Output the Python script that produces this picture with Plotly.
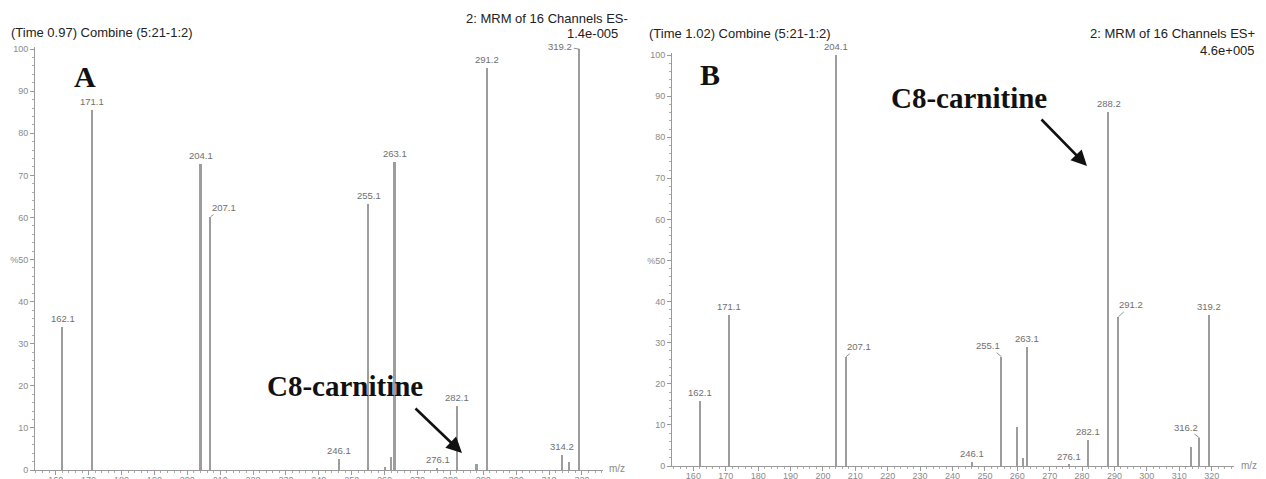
import plotly.graph_objects as go

W, H = 1266, 479

# ---------------- data ----------------
mz_A = [162.1, 171.1, 204.1, 207.1, 246.1, 255.1, 260.2, 262.0, 263.1, 276.1, 282.1, 288.0, 291.2, 313.9, 316.1, 319.2]
int_A = [34.0, 85.5, 72.6, 60.2, 2.7, 63.1, 0.8, 3.1, 73.2, 0.5, 15.3, 1.5, 95.4, 3.5, 2.0, 100.0]
lab_A = ["162.1", "171.1", "204.1", "207.1", "246.1", "255.1", "", "", "263.1", "276.1", "282.1", "", "291.2", "314.2", "", "319.2"]

mz_B = [162.1, 171.1, 204.1, 207.1, 246.1, 255.1, 260.0, 261.9, 263.1, 276.0, 281.9, 288.2, 291.2, 313.8, 316.3, 319.2]
int_B = [15.9, 36.8, 100.0, 26.6, 1.0, 26.6, 9.4, 2.0, 29.0, 0.3, 6.3, 86.2, 36.3, 4.7, 6.8, 36.8]
lab_B = ["162.1", "171.1", "204.1", "207.1", "246.1", "255.1", "", "", "263.1", "276.1", "282.1", "288.2", "291.2", "", "316.2", "319.2"]

x_ticks = list(range(160, 330, 10))
y_ticks = list(range(0, 110, 10))
y_ticktext = ["%50" if v == 50 else str(v) for v in y_ticks]

# leader-line offsets (pixels) for labels drawn beside their peaks
leaders_A = {"207.1": (13, -9), "319.2": (-19, -3)}
leaders_B = {"207.1": (13, -10), "255.1": (-13, -11), "291.2": (13, -12), "316.2": (-14, -11)}


def px(x):
    return x / W


def py(y):
    return 1 - y / H


fig = go.Figure()

GRAY = "#9d9d9d"
fig.add_trace(go.Bar(x=mz_A, y=int_A, width=0.5, marker=dict(color=GRAY, line=dict(width=0)),
                     xaxis="x", yaxis="y", showlegend=False))
fig.add_trace(go.Bar(x=mz_B, y=int_B, width=0.5, marker=dict(color=GRAY, line=dict(width=0)),
                     xaxis="x2", yaxis="y2", showlegend=False))

tickfont = dict(family="Liberation Sans, Arial", size=9, color="#8a8a8a")


def xaxis(domain, rng):
    return dict(domain=domain, range=rng, tickvals=x_ticks, ticks="outside", ticklen=4,
                tickcolor="#999", tickwidth=1, showline=True, linecolor="#999", linewidth=1,
                showgrid=False, zeroline=False, tickfont=tickfont, automargin=False,
                ticklabelstandoff=-3,
                minor=dict(dtick=2, tick0=0, ticks="outside", ticklen=2, tickcolor="#aaa", showgrid=False),
                fixedrange=True)


def yaxis(domain, rng, anchor):
    return dict(domain=domain, range=rng, tickvals=y_ticks, ticktext=y_ticktext, ticks="outside",
                ticklen=4, tickcolor="#999", tickwidth=1, showline=True, linecolor="#999", linewidth=1,
                showgrid=False, zeroline=False, tickfont=tickfont, automargin=False, anchor=anchor,
                minor=dict(dtick=2, tick0=0, ticks="outside", ticklen=2, tickcolor="#aaa", showgrid=False),
                fixedrange=True)


fig.update_layout(
    width=W, height=H,
    margin=dict(l=0, r=0, t=0, b=0),
    paper_bgcolor="white", plot_bgcolor="white",
    bargap=0,
    xaxis=xaxis([px(35), px(603)], [153.7, 326.4]),
    yaxis=yaxis([py(470), py(47)], [0, 100.5], "x"),
    xaxis2=dict(xaxis([px(672), px(1234)], [153.4, 326.9]), anchor="y2"),
    yaxis2=yaxis([py(466), py(53)], [0, 100.5], "x2"),
)
fig.layout.xaxis.anchor = "y"

annos = []
labfont = dict(family="Liberation Sans, Arial", size=9.5, color="#6f6f6f")


def peak_labels(mzs, ints, labs, leaders, xr, yr):
    for m, v, t in zip(mzs, ints, labs):
        if not t:
            continue
        if t in leaders:
            ax, ay = leaders[t]
            annos.append(dict(x=m, y=v, xref=xr, yref=yr, text=t, showarrow=True, arrowhead=0,
                              arrowwidth=0.8, arrowcolor="#777", ax=ax, ay=ay, standoff=0,
                              font=labfont, xanchor="center", yanchor="middle"))
        else:
            annos.append(dict(x=m, y=v, xref=xr, yref=yr, text=t, showarrow=False,
                              yanchor="bottom", yshift=1, font=labfont))


peak_labels(mz_A, int_A, lab_A, leaders_A, "x", "y")
peak_labels(mz_B, int_B, lab_B, leaders_B, "x2", "y2")

hdr = dict(family="Liberation Sans, Arial", size=13, color="#222")


def ptext(x, y, t, font, xanchor="center"):
    annos.append(dict(x=px(x), y=py(y), xref="paper", yref="paper", text=t, showarrow=False,
                      xanchor=xanchor, yanchor="middle", font=font))


ptext(9, 32, "(Time 0.97) Combine (5:21-1:2)", hdr, "left")
ptext(630, 18, "2: MRM of 16 Channels ES-", hdr, "right")
ptext(620, 34, "1.4e-005", hdr, "right")
ptext(647, 33, "(Time 1.02) Combine (5:21-1:2)", hdr, "left")
ptext(1257, 33, "2: MRM of 16 Channels ES+", hdr, "right")
ptext(1257, 50, "4.6e+005", hdr, "right")

mzfont = dict(family="Liberation Sans, Arial", size=10, color="#8a8a8a")
ptext(617, 468, "m/z", mzfont)
ptext(1249, 465, "m/z", mzfont)

big = dict(family="Liberation Serif, Times New Roman", size=30, color="#111")
ptext(85, 76, "<b>A</b>", big)
ptext(710, 75, "<b>B</b>", big)

c8 = dict(family="Liberation Serif, Times New Roman", size=29, color="#111")
ptext(345, 386, "<b>C8-carnitine</b>", c8)
ptext(969, 98, "<b>C8-carnitine</b>", c8)


def arrow(x0, y0, x1, y1):
    annos.append(dict(x=px(x1), y=py(y1), xref="paper", yref="paper", text="", showarrow=True,
                      arrowhead=2, arrowsize=1.2, arrowwidth=2.6, arrowcolor="#111",
                      ax=x0 - x1, ay=y0 - y1, standoff=0))


arrow(414, 407, 462, 453)
arrow(1040, 118, 1087, 166)

fig.update_layout(annotations=annos)

fig.write_html("out.html", config={"displayModeBar": False},
               post_script="document.body.style.margin='0';")
